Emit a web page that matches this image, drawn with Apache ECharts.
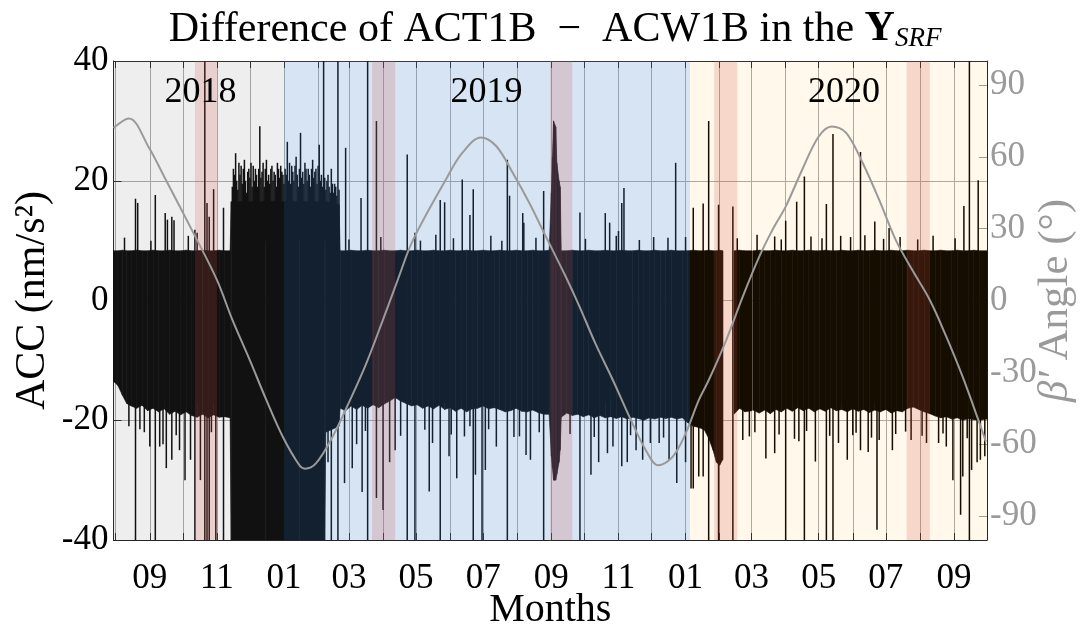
<!DOCTYPE html>
<html><head><meta charset="utf-8">
<script src="https://cdn.jsdelivr.net/npm/echarts@6/dist/echarts.min.js"></script>
<style>html,body{margin:0;padding:0;background:#fff}#c{width:1091px;height:629px}</style>
</head><body><div id="c"></div>
<script>
// ---------- DATA ----------
const xStart = '2018-07-30';
const xEnd = '2020-10-01';
const monthTicks = ['2018-08-01','2018-09-01','2018-10-01','2018-11-01','2018-12-01','2019-01-01','2019-02-01','2019-03-01','2019-04-01','2019-05-01','2019-06-01','2019-07-01','2019-08-01','2019-09-01','2019-10-01','2019-11-01','2019-12-01','2020-01-01','2020-02-01','2020-03-01','2020-04-01','2020-05-01','2020-06-01','2020-07-01','2020-08-01','2020-09-01'];
const xLabelDates = ['2018-09-01','2018-11-01','2019-01-01','2019-03-01','2019-05-01','2019-07-01','2019-09-01','2019-11-01','2020-01-01','2020-03-01','2020-05-01','2020-07-01','2020-09-01'];
const xLabels = ['09','11','01','03','05','07','09','11','01','03','05','07','09'];
const betaTicks = [-90,-60,-30,0,30,60,90];

const yearBandStart = ['2018-07-30','2019-01-01','2020-01-05'];
const yearBandEnd   = ['2019-01-01','2020-01-05','2020-10-01'];
const yearNames = ['2018','2019','2020'];
const yearLabelDates = ['2018-10-17','2019-07-04','2020-05-24'];
const eclipseStart = ['2018-10-12','2019-03-22','2019-08-31','2020-01-27','2020-07-20'];
const eclipseEnd   = ['2018-11-01','2019-04-12','2019-09-20','2020-02-17','2020-08-10'];

// dense ACC difference: envelope of the noise band (nm/s^2)
const coreDates = ['2018-07-30','2018-08-03','2018-08-07','2018-08-11','2018-08-15','2018-08-20','2018-08-25','2018-08-30','2018-09-04','2018-09-09','2018-09-14','2018-09-19','2018-09-24','2018-09-29','2018-10-04','2018-10-09','2018-10-14','2018-10-19','2018-10-24','2018-10-29','2018-11-03','2018-11-08','2018-11-13',
 '2018-11-14','2018-12-15','2019-01-15','2019-02-07','2019-02-08','2019-02-20',
 '2019-02-21','2019-02-26','2019-03-03','2019-03-08','2019-03-13','2019-03-18','2019-03-23','2019-03-28','2019-04-02','2019-04-07','2019-04-12','2019-04-17','2019-04-22','2019-04-27','2019-05-02','2019-05-07','2019-05-12','2019-05-17','2019-05-22','2019-05-27','2019-06-01','2019-06-06','2019-06-11','2019-06-16','2019-06-21','2019-06-26','2019-07-01','2019-07-06','2019-07-11','2019-07-16','2019-07-21','2019-07-26','2019-07-31','2019-08-05','2019-08-10','2019-08-15','2019-08-20','2019-08-25','2019-08-30',
 '2019-09-01','2019-09-02','2019-09-03','2019-09-05','2019-09-06','2019-09-08','2019-09-09','2019-09-10',
 '2019-09-15','2019-09-20','2019-09-25','2019-09-30','2019-10-05','2019-10-10','2019-10-15','2019-10-20','2019-10-25','2019-10-30','2019-11-04','2019-11-09','2019-11-14','2019-11-19','2019-11-24','2019-11-29','2019-12-04','2019-12-09','2019-12-14','2019-12-19','2019-12-24','2019-12-29',
 '2020-01-03','2020-01-08','2020-01-13','2020-01-18','2020-01-22','2020-01-26','2020-01-29','2020-02-01','2020-02-04','2020-02-05',
 '2020-02-14','2020-02-19','2020-02-24','2020-03-01T12','2020-03-01T20','2020-03-02T04','2020-03-08','2020-03-13','2020-03-18','2020-03-23','2020-03-28','2020-04-02','2020-04-07','2020-04-12','2020-04-17','2020-04-22','2020-04-27','2020-05-02','2020-05-07','2020-05-12','2020-05-17','2020-05-22','2020-05-27','2020-06-01','2020-06-06','2020-06-11','2020-06-16','2020-06-21','2020-06-26','2020-07-01','2020-07-06','2020-07-11','2020-07-16','2020-07-21','2020-07-26','2020-07-31','2020-08-05','2020-08-10','2020-08-15','2020-08-20','2020-08-25','2020-08-30','2020-09-04','2020-09-09','2020-09-14','2020-09-19','2020-09-24','2020-10-01'];
const coreHigh = [8.3,8.3,8.4,8.3,8.3,8.4,8.3,8.3,8.4,8.3,8.3,8.4,8.3,8.3,8.4,8.3,8.3,8.4,8.3,8.3,8.4,8.3,8.3,
 16.5,16.5,16.5,16.5,16.5,16.0,
 8.3,8.3,8.4,8.3,8.3,8.4,8.3,8.3,8.4,8.3,8.3,8.4,8.3,8.3,8.4,8.3,8.3,8.4,8.3,8.3,8.4,8.3,8.3,8.4,8.3,8.3,8.4,8.3,8.3,8.4,8.3,8.3,8.4,8.3,8.3,8.4,8.3,8.3,8.4,
 18,24,30,29,23,20,19,8.3,
 8.3,8.4,8.3,8.3,8.4,8.3,8.3,8.4,8.3,8.3,8.4,8.3,8.3,8.4,8.3,8.3,8.4,8.3,8.3,8.4,8.3,8.3,
 8.3,8.4,8.3,8.3,8.4,8.3,8.3,8.4,8.3,null,
 8.3,8.4,8.3,8.3,null,8.3,8.4,8.3,8.3,8.4,8.3,8.3,8.4,8.3,8.3,8.4,8.3,8.3,8.4,8.3,8.3,8.4,8.3,8.3,8.4,8.3,8.3,8.4,8.3,8.3,8.4,8.3,8.3,8.4,8.3,8.3,8.4,8.3,8.3,8.4,8.3,8.3,8.4,8.3,8.3,8.4,8.3,8.3];
const coreLow = [-13.5,-14.2,-15.8,-17.2,-17.6,-18.0,-17.5,-18.4,-18.0,-18.6,-18.1,-19.0,-18.5,-19.1,-18.6,-19.2,-19.5,-19.0,-19.6,-19.1,-19.5,-19.4,-19.6,
 -40,-40,-40,-40,-22,-21,
 -18.0,-18.4,-17.6,-18.2,-17.5,-18.0,-17.4,-17.9,-17.3,-16.8,-16.2,-16.8,-17.2,-17.6,-17.4,-18.0,-17.6,-18.1,-17.5,-18.2,-17.9,-18.5,-18.0,-18.6,-18.1,-18.0,-17.6,-18.1,-17.9,-18.2,-18.6,-18.4,-18.0,-18.5,-18.6,-18.3,-18.7,-19.0,-19.0,
 -26,-28,-30,-30,-29,-27,-25,-19.5,
 -18.8,-19.2,-19.0,-19.4,-19.1,-19.6,-19.2,-19.6,-19.4,-19.7,-19.4,-19.8,-19.5,-19.7,-20.0,-19.6,-19.8,-19.5,-19.7,-19.5,-19.8,-19.6,
 -20.4,-21.0,-21.2,-21.6,-23.0,-25.0,-27.0,-27.5,-26.5,null,
 -19.0,-18.0,-18.6,-18.4,null,-18.3,-18.8,-18.3,-18.9,-18.2,-18.6,-18.0,-18.5,-17.9,-18.4,-18.0,-18.6,-18.1,-18.5,-17.9,-18.4,-18.2,-18.6,-18.1,-18.5,-18.2,-18.7,-18.3,-18.6,-18.2,-18.8,-18.4,-18.6,-18.0,-17.8,-18.2,-18.6,-18.9,-19.3,-19.6,-19.4,-19.8,-19.6,-20.0,-19.7,-19.9,-20.0,-19.8];

// individual excursions: [date, lowest value, highest value]
const spikeEvents = [
 ['2018-08-09',8,10.5],['2018-08-13',-21,8],['2018-08-19',-40,17],['2018-08-21',-17,16.3],['2018-08-23',-21.5,8],['2018-08-27',-22,8],
 ['2018-09-01',-24.4,8],['2018-09-02',8,10],['2018-09-06',-40,17.6],['2018-09-10',-24.4,8],['2018-09-13',-24,8],['2018-09-15',-17,14.6],['2018-09-16',-28,8],['2018-09-17',-17,13.5],['2018-09-21',-26.6,14],['2018-09-23',-17,13.4],['2018-09-25',-22.5,8],['2018-09-28',-25,8],
 ['2018-10-03',-30,8],['2018-10-06',8,10.8],['2018-10-08',-26.6,8],['2018-10-12',-40,11.8],['2018-10-14',-17,11.3],['2018-10-17',-30,8],['2018-10-21',-40,40],['2018-10-23',-40,16.3],['2018-10-25',-40,14],['2018-10-27',-22,8],['2018-10-29',-17,18.6],['2018-10-31',-40,8],['2018-11-07',-40,15.5],
 ['2018-11-15',10,19],['2018-11-16',10,22],['2018-11-17',10,21],['2018-11-18',10,24.6],['2018-11-19',10,20],['2018-11-20',10,18.5],['2018-11-21',10,23],['2018-11-22',10,21],['2018-11-23',10,22.5],['2018-11-24',10,19.5],['2018-11-25',10,22],['2018-11-26',10,23.5],['2018-11-27',10,20],['2018-11-28',10,18],['2018-11-29',10,21.5],['2018-11-30',10,22],
 ['2018-12-01',10,20.5],['2018-12-02',10,23],['2018-12-03',10,19],['2018-12-04',10,22.5],['2018-12-05',10,20],['2018-12-06',10,22],['2018-12-07',10,21],['2018-12-08',10,19],['2018-12-09',10,22],['2018-12-10',10,29.1],['2018-12-11',10,20.5],['2018-12-12',10,21.5],['2018-12-13',10,23],['2018-12-14',10,19],['2018-12-15',10,22],['2018-12-16',10,23.5],['2018-12-17',10,20],['2018-12-18',10,21],['2018-12-19',10,19.5],['2018-12-20',10,22],['2018-12-21',10,22.5],['2018-12-22',10,20],['2018-12-23',10,21.5],['2018-12-24',10,21],['2018-12-25',10,19],['2018-12-26',10,23],['2018-12-27',10,22],['2018-12-28',10,20.5],['2018-12-29',10,22.5],['2018-12-30',10,21.5],['2018-12-31',10,21],
 ['2019-01-01',10,19.5],['2019-01-02',10,22],['2019-01-03',10,21],['2019-01-04',10,26.5],['2019-01-05',10,20],['2019-01-06',10,23],['2019-01-07',10,19.5],['2019-01-08',10,22.5],['2019-01-09',10,21.5],['2019-01-10',10,20],['2019-01-11',10,22.5],['2019-01-12',10,24],['2019-01-13',10,21],['2019-01-14',10,19],['2019-01-15',10,22],['2019-01-16',10,28],['2019-01-17',10,20.5],['2019-01-18',10,21.5],['2019-01-19',10,19.5],['2019-01-20',10,23],['2019-01-21',10,22],['2019-01-22',10,20],['2019-01-23',10,22],['2019-01-24',10,21],['2019-01-25',10,19],['2019-01-26',10,22],['2019-01-27',10,23.5],['2019-01-28',10,20.5],['2019-01-29',10,21.5],['2019-01-30',10,22],['2019-01-31',10,19.5],
 ['2019-02-01',10,22.5],['2019-02-02',10,26],['2019-02-03',10,20],['2019-02-04',10,21],['2019-02-05',10,19],['2019-02-06',-40,40],['2019-02-07',10,20.5],['2019-02-08',10,18.5],['2019-02-09',10,20],['2019-02-10',-27,21],['2019-02-11',10,19],['2019-02-12',10,18],['2019-02-13',-40,22],['2019-02-14',10,19.5],['2019-02-15',10,18],['2019-02-16',-20,19.5],['2019-02-17',10,19],['2019-02-18',10,17.5],['2019-02-19',-40,40],['2019-02-20',10,18.5],['2019-02-25',-30.5,8],['2019-02-26',-17,25.5],
 ['2019-03-01',8,10.2],['2019-03-04',-28,8],['2019-03-08',-24,8],['2019-03-12',-17,17.1],['2019-03-13',-32,8],['2019-03-16',-21.8,8],['2019-03-18',-40,40],['2019-03-26',-33,30],['2019-03-30',8,10.6],
 ['2019-04-01',-35,8],['2019-04-07',-27,8],['2019-04-12',-25,8],['2019-04-17',-22.6,8],['2019-04-23',-40,24.4],['2019-04-30',-40,11.3],
 ['2019-05-05',8,10],['2019-05-09',-21.6,8],['2019-05-13',-31.9,8],['2019-05-16',-23.8,8],['2019-05-19',8,11],['2019-05-23',-40,16.8],['2019-05-27',-17,16.4],['2019-05-31',-26,8],
 ['2019-06-02',-22.4,8],['2019-06-04',8,10.4],['2019-06-07',-29.7,8],['2019-06-12',-17,20.2],['2019-06-14',-22.7,8],['2019-06-19',-21,14.3],['2019-06-22',-40,18.6],['2019-06-24',-29.1,8],['2019-06-30',-40,8],
 ['2019-07-03',-28.3,8],['2019-07-06',-21.5,8],['2019-07-08',8,10.8],['2019-07-13',-24.4,8],['2019-07-18',8,10],['2019-07-23',-40,23.5],['2019-07-25',-17,17.5],['2019-07-29',-22.8,8],
 ['2019-08-03',-22.7,8],['2019-08-06',-17,14.6],['2019-08-07',-17,13],['2019-08-09',-25.8,8],['2019-08-13',-26.6,8],['2019-08-18',8,10.5],['2019-08-21',-22,8],['2019-08-25',-40,18.3],
 ['2019-09-18',-22.3,8],['2019-09-27',-40,14.7],['2019-10-02',8,10.3],['2019-10-07',-29.1,8],['2019-10-10',-22.8,8],['2019-10-14',-27,8],['2019-10-20',-17,14.6],['2019-10-22',-25.5,8],['2019-10-24',-17,13],['2019-10-27',-24.4,8],['2019-10-30',8,10.8],
 ['2019-11-01',-17,11.6],['2019-11-04',-27.7,16.3],['2019-11-06',-17,18.8],['2019-11-09',-27,8],['2019-11-12',-22.5,8],['2019-11-17',-25,8],['2019-11-20',8,10.1],['2019-11-23',-26.6,8],['2019-11-30',-23.8,8],
 ['2019-12-03',8,10.6],['2019-12-08',-23.8,8],['2019-12-12',-22.9,8],['2019-12-16',-17,10.5],['2019-12-17',-26.6,8],['2019-12-23',-17,23],['2019-12-24',-30.5,8],
 ['2020-01-01',-27,10.6],['2020-01-06',-31.4,8],['2020-01-08',-31.4,15.5],['2020-01-13',-29.4,8],['2020-01-17',-29.4,16.2],['2020-01-22',-40,30],['2020-01-31',-40,16],['2020-02-13',-40,15.7],['2020-02-17',8,10.4],['2020-02-22',-23.3,8],['2020-02-28',-22.7,8],
 ['2020-03-04',-22,8],['2020-03-06',8,11],['2020-03-14',-26.4,8],['2020-03-22',-25.5,10.7],['2020-03-26',-22.4,8],['2020-03-28',8,10.2],
 ['2020-04-01',-40,13.3],['2020-04-09',-23.1,8],['2020-04-11',-17,16.5],['2020-04-13',-23.5,8],['2020-04-18',-40,20.7],['2020-04-20',-21.8,8],['2020-04-24',8,10.7],['2020-04-28',-26.9,8],
 ['2020-05-04',8,10.4],['2020-05-08',-40,16.1],['2020-05-11',-22.6,8],['2020-05-14',-40,27.8],['2020-05-19',-23.8,8],['2020-05-21',-17,10.8],['2020-05-27',-26.6,8],['2020-05-30',-17,10.6],
 ['2020-06-01',-22.5,8],['2020-06-04',-22.1,8],['2020-06-08',-25,24.8],['2020-06-12',8,10.9],['2020-06-15',-25.3,8],['2020-06-18',-22.9,8],['2020-06-21',-17,13.2],['2020-06-23',-38.3,8],['2020-06-25',-23.3,8],['2020-06-29',8,10.3],
 ['2020-07-04',-17,12.1],['2020-07-07',-25,8],['2020-07-10',-22.3,8],['2020-07-14',8,10.6],['2020-07-19',-21.9,8],['2020-07-24',-23.3,8],['2020-07-30',8,10.2],
 ['2020-08-03',-22.6,8],['2020-08-07',-23.8,8],['2020-08-13',8,10.8],['2020-08-18',-23.8,8],['2020-08-22',-22.2,8],['2020-08-25',-24.4,8],['2020-08-31',-30,8],
 ['2020-09-02',8,10.4],['2020-09-07',-35.8,8],['2020-09-09',-29.4,8],['2020-09-10',-17,15.8],['2020-09-13',-23,8],['2020-09-15',-40,40],['2020-09-17',-28.3,8],['2020-09-22',-27,8],['2020-09-23',-17,20.1],['2020-09-25',-26.6,8],['2020-09-29',-26,8]
];

// beta' angle (degrees)
const betaDates = ['2018-07-30','2018-08-13','2018-08-31','2018-09-16','2018-10-12','2018-11-01','2018-11-15','2018-12-01','2018-12-16','2018-12-31','2019-01-15','2019-01-20','2019-01-30','2019-02-14','2019-03-02','2019-03-17','2019-04-01','2019-04-15','2019-04-28','2019-05-28','2019-06-12','2019-06-29','2019-07-13','2019-07-28','2019-08-12','2019-08-27','2019-09-14','2019-09-26','2019-10-11','2019-10-27','2019-11-11','2019-11-26','2019-12-07','2019-12-20','2020-01-01','2020-01-13','2020-01-22','2020-02-07','2020-02-22','2020-03-08','2020-03-20','2020-04-01','2020-04-16','2020-05-01','2020-05-13','2020-05-26','2020-06-10','2020-06-25','2020-07-10','2020-07-25','2020-08-10','2020-08-25','2020-09-09','2020-09-24','2020-09-30'];
const betaValues = [72,76,64,50,27,8.6,-8,-25,-41.6,-57,-68.8,-70.2,-68,-57,-41.6,-26,-8,9.4,25,50.4,61.6,68.1,64.4,53.2,40.7,26.7,10,-1.9,-17.9,-33.3,-48.6,-62.6,-68.8,-65.4,-55.6,-41.6,-33.3,-16.5,1.6,18.3,29.5,39.2,54.6,68.5,72.7,70,57.4,42,25.3,12.8,0.2,-15.1,-32,-51,-59];

// ---------- RENDER ----------
const T = s => { const p = s.split('T'); const d = p[0].split('-').map(Number); return Date.UTC(d[0], d[1]-1, d[2], p[1] ? Number(p[1]) : 0); };
const FONT = "'Liberation Serif', 'Times New Roman', serif";
const AX = '#262626';
const yearFill = ['rgba(128,128,128,0.135)','rgba(78,138,203,0.23)','rgba(255,167,0,0.08)'];
const eclipseFill = 'rgba(215,75,65,0.19)';

const chart = echarts.init(document.getElementById('c'), null, {renderer: 'canvas'});
const xTickVals = monthTicks.map(T);
const xLabelVals = xLabelDates.map(T);
const xAxisCommon = {
  type: 'value', min: T(xStart), max: T(xEnd), scale: true,
  axisLine: {show: true, onZero: false, lineStyle: {color: AX, width: 1}},
  axisTick: {show: true, inside: true, length: 7, customValues: xTickVals, lineStyle: {color: AX}},
  splitLine: {show: false}
};

const bandItems = [];
yearBandStart.forEach((s, i) => bandItems.push([T(s), T(yearBandEnd[i]), 0, i]));
eclipseStart.forEach((s, i) => bandItems.push([T(s), T(eclipseEnd[i]), 1, i]));

chart.setOption({
  animation: false,
  backgroundColor: '#fff',
  title: {
    text: 'Difference of ACT1B  \u2212  ACW1B in the {b|Y}{s|SRF}',
    left: 550, top: 2, textAlign: 'center',
    textStyle: {fontFamily: FONT, fontSize: 42, fontWeight: 'normal', color: '#000',
      rich: {b: {fontFamily: FONT, fontSize: 42, fontWeight: 'bold', color: '#000'},
             s: {fontFamily: FONT, fontSize: 27, fontStyle: 'italic', color: '#000', padding: [18, 0, 0, 0]}}}
  },
  grid: {left: 113.5, right: 104, top: 61, bottom: 89, containLabel: false, outerBoundsMode: 'none'},
  xAxis: [
    Object.assign({}, xAxisCommon, {
      position: 'bottom',
      name: 'Months', nameLocation: 'middle', nameGap: 50, nameMoveOverlap: false,
      nameTextStyle: {fontFamily: FONT, fontSize: 40, color: '#000'},
      axisLabel: {show: true, customValues: xLabelVals, margin: 21, fontFamily: FONT, fontSize: 35, color: '#000',
        formatter: v => { const k = xLabelVals.indexOf(v); return k >= 0 ? xLabels[k] : ''; }},
      splitLine: {show: true, lineStyle: {color: '#a9a9a9', width: 1}}
    }),
    Object.assign({}, xAxisCommon, {position: 'top', axisLabel: {show: false}})
  ],
  yAxis: [
    {type: 'value', min: -40, max: 40, interval: 20, position: 'left',
     name: 'ACC (nm/s\u00B2)', nameLocation: 'middle', nameGap: 60, nameRotate: 90, nameMoveOverlap: false,
     nameTextStyle: {fontFamily: FONT, fontSize: 42, color: '#000'},
     axisLine: {show: true, onZero: false, lineStyle: {color: AX}},
     axisTick: {show: true, inside: true, length: 8, lineStyle: {color: AX}},
     axisLabel: {fontFamily: FONT, fontSize: 35, color: '#000', margin: 5},
     splitLine: {show: true, lineStyle: {color: '#a9a9a9', width: 1}}},
    {type: 'value', min: -100, max: 100, position: 'right',
     name: '{i|\u03B2\u2032} Angle (\u00B0)', nameLocation: 'middle', nameGap: 47, nameRotate: 90, nameMoveOverlap: false,
     nameTextStyle: {fontFamily: FONT, fontSize: 43, color: '#9a9a9a',
       rich: {i: {fontFamily: FONT, fontSize: 43, fontStyle: 'italic', color: '#9a9a9a'}}},
     axisLine: {show: true, onZero: false, lineStyle: {color: AX}},
     axisTick: {show: true, inside: true, length: 8, customValues: betaTicks, lineStyle: {color: '#9a9a9a'}},
     axisLabel: {customValues: betaTicks, fontFamily: FONT, fontSize: 35, color: '#9a9a9a', margin: 3},
     splitLine: {show: false}}
  ],
  series: [
    { // dense noise band
      type: 'custom', xAxisIndex: 0, yAxisIndex: 0, z: 2, silent: true, clip: true,
      data: coreDates.map((d, i) => [T(d), 0, i]),
      encode: {x: 0, y: 1},
      renderItem: (params, api) => {
        const i = params.dataIndex;
        if (i >= coreDates.length - 1) return null;
        const h0 = coreHigh[i], h1 = coreHigh[i + 1], l0 = coreLow[i], l1 = coreLow[i + 1];
        if (h0 == null || h1 == null) return null;
        const t0 = T(coreDates[i]), t1 = T(coreDates[i + 1]);
        return {type: 'polygon', shape: {points: [api.coord([t0, h0]), api.coord([t1, h1]), api.coord([t1, l1]), api.coord([t0, l0])]},
                style: {fill: '#000', stroke: '#000', lineWidth: 0.6}};
      }
    },
    { // isolated excursions
      type: 'custom', xAxisIndex: 0, yAxisIndex: 0, z: 3, silent: true, clip: true,
      data: spikeEvents.map(e => [T(e[0]), e[1], e[2]]),
      encode: {x: 0, y: [1, 2]},
      renderItem: (params, api) => {
        const a = api.coord([api.value(0), api.value(2)]);
        const b = api.coord([api.value(0), api.value(1)]);
        return {type: 'rect', shape: {x: a[0] - 0.75, y: a[1], width: 1.5, height: b[1] - a[1]}, style: {fill: '#000'}};
      }
    },
    { // year and eclipse shading (drawn over the data, translucent)
      type: 'custom', xAxisIndex: 0, yAxisIndex: 0, z: 5, silent: true, clip: true,
      data: bandItems,
      encode: {x: [0, 1]},
      renderItem: (params, api) => {
        const a = api.coord([api.value(0), 40]);
        const b = api.coord([api.value(1), -40]);
        const fill = api.value(2) === 0 ? yearFill[api.value(3)] : eclipseFill;
        return {type: 'rect', shape: {x: a[0], y: a[1], width: b[0] - a[0], height: b[1] - a[1]}, style: {fill: fill}};
      }
    },
    { // year labels
      type: 'custom', xAxisIndex: 0, yAxisIndex: 0, z: 8, silent: true, clip: false,
      data: yearLabelDates.map((d, i) => [T(d), 34.8, i]),
      encode: {x: 0, y: 1},
      renderItem: (params, api) => {
        const p = api.coord([api.value(0), api.value(1)]);
        return {type: 'text', x: p[0], y: p[1], style: {text: yearNames[api.value(2)], fontFamily: FONT, fontSize: 36, fill: '#000', align: 'center', verticalAlign: 'middle'}};
      }
    },
    { // beta' angle
      type: 'line', xAxisIndex: 0, yAxisIndex: 1, z: 10, silent: true,
      data: betaDates.map((d, i) => [T(d), betaValues[i]]),
      smooth: 0.35, showSymbol: false, symbol: 'none',
      lineStyle: {color: '#9a9a9a', width: 2}
    }
  ]
});
</script></body></html>
